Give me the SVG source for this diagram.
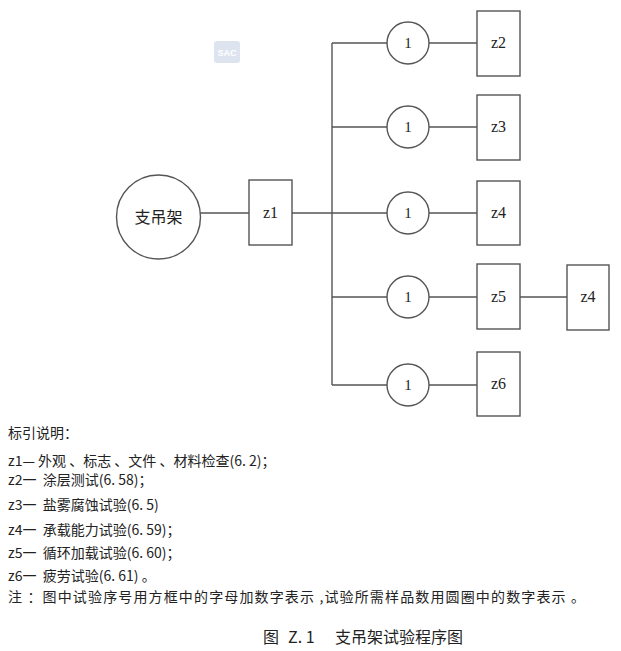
<svg xmlns="http://www.w3.org/2000/svg" width="621" height="651" viewBox="0 0 621 651">
<style>
.s{fill:#fff;stroke:#555;stroke-width:1.4}
.c{fill:none;stroke:#555;stroke-width:1.4}
.t{font-family:"Liberation Serif","Noto Sans CJK SC",serif;font-size:16px;fill:#222;text-anchor:middle}
.n{font-family:"Liberation Serif",serif;font-size:15px;fill:#222;text-anchor:middle}
.l{font-family:"Noto Sans CJK SC","Noto Sans",sans-serif;font-size:14px;fill:#222}
.cap{font-family:"Noto Sans CJK SC","Noto Sans",sans-serif;font-size:16px;fill:#222}
</style>
<rect width="621" height="651" fill="#fff"/>
<g id="watermark" opacity="0.35">
<rect x="214" y="41" width="26" height="22" rx="3" fill="#9fb4d6"/>
<text x="227" y="56" font-family="Liberation Sans,sans-serif" font-size="9" font-weight="bold" fill="#fff" text-anchor="middle">SAC</text>
</g>
<g id="connectors" class="c">
<line x1="200" y1="213" x2="249" y2="213"/>
<line x1="292" y1="213" x2="332" y2="213"/>
<line x1="332" y1="43" x2="332" y2="385"/>
<line x1="332" y1="43" x2="387" y2="43"/>
<line x1="429" y1="43" x2="477" y2="43"/>
<line x1="332" y1="127" x2="387" y2="127"/>
<line x1="429" y1="127" x2="477" y2="127"/>
<line x1="332" y1="213" x2="387" y2="213"/>
<line x1="429" y1="213" x2="477" y2="213"/>
<line x1="332" y1="297" x2="387" y2="297"/>
<line x1="429" y1="297" x2="477" y2="297"/>
<line x1="520" y1="297" x2="567" y2="297"/>
<line x1="332" y1="385" x2="387" y2="385"/>
<line x1="429" y1="385" x2="477" y2="385"/>
</g>
<g id="root"><circle class="s" cx="158.5" cy="217" r="42"/><text class="t" x="158.5" y="223">支吊架</text></g>
<g id="z1"><rect class="s" x="249" y="180" width="43" height="65"/><text class="t" x="270.5" y="218">z1</text></g>
<g id="c2"><circle class="s" cx="408" cy="43" r="21"/><text class="n" x="408" y="48">1</text></g>
<g id="c3"><circle class="s" cx="408" cy="127" r="21"/><text class="n" x="408" y="132">1</text></g>
<g id="c4"><circle class="s" cx="408" cy="213" r="21"/><text class="n" x="408" y="218">1</text></g>
<g id="c5"><circle class="s" cx="408" cy="297" r="21"/><text class="n" x="408" y="302">1</text></g>
<g id="c6"><circle class="s" cx="408" cy="385" r="21"/><text class="n" x="408" y="390">1</text></g>
<g id="z2"><rect class="s" x="477" y="11" width="43" height="65"/><text class="t" x="498.5" y="48">z2</text></g>
<g id="z3"><rect class="s" x="477" y="95" width="43" height="65"/><text class="t" x="498.5" y="132">z3</text></g>
<g id="z4"><rect class="s" x="477" y="181" width="43" height="64"/><text class="t" x="498.5" y="218">z4</text></g>
<g id="z5"><rect class="s" x="477" y="264" width="43" height="65"/><text class="t" x="498.5" y="302">z5</text></g>
<g id="z4b"><rect class="s" x="567" y="265" width="42" height="65"/><text class="t" x="588" y="302">z4</text></g>
<g id="z6"><rect class="s" x="477" y="352" width="43" height="64"/><text class="t" x="498.5" y="389">z6</text></g>
<g id="legend">
<text class="l" x="8" y="438">标引说明：</text>
<text class="l" x="8" y="466">z1— 外观 、标志 、文件 、材料检查(6. 2)；</text>
<text class="l" x="8" y="485" xml:space="preserve">z2一  涂层测试(6. 58)；</text>
<text class="l" x="8" y="510" xml:space="preserve">z3一  盐雾腐蚀试验(6. 5)</text>
<text class="l" x="8" y="535" xml:space="preserve">z4一  承载能力试验(6. 59)；</text>
<text class="l" x="8" y="558" xml:space="preserve">z5一  循环加载试验(6. 60)；</text>
<text class="l" x="8" y="581" xml:space="preserve">z6一  疲劳试验(6. 61) 。</text>
<text class="l" x="8" y="602" textLength="577" lengthAdjust="spacing">注 ：图中试验序号用方框中的字母加数字表示 ,试验所需样品数用圆圈中的数字表示 。</text>
</g>
<g id="caption">
<text class="cap" x="263" y="643">图</text>
<text class="cap" x="288" y="643">Z. 1</text>
<text class="cap" x="335" y="643">支吊架试验程序图</text>
</g>
</svg>
